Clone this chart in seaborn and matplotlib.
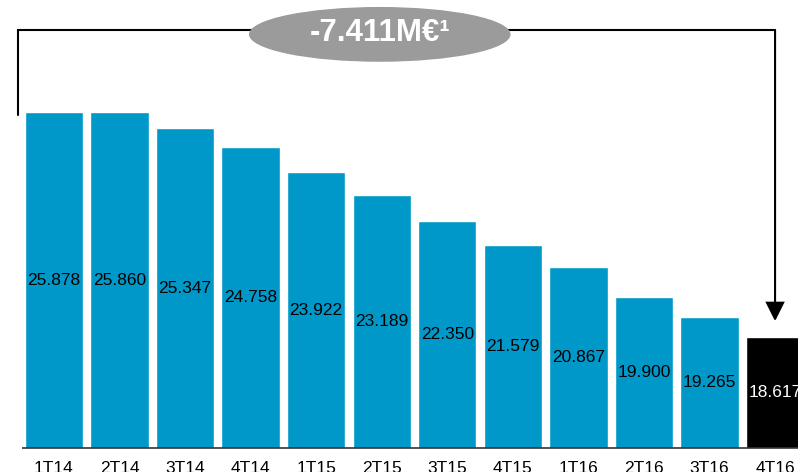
import matplotlib
matplotlib.use("Agg")
import matplotlib.pyplot as plt
from matplotlib.patches import Ellipse
import seaborn as sns
import pandas as pd

# Quarterly values (thousands)
quarters = ["1T14", "2T14", "3T14", "4T14", "1T15", "2T15",
            "3T15", "4T15", "1T16", "2T16", "3T16", "4T16"]
values = [25.878, 25.860, 25.347, 24.758, 23.922, 23.189,
          22.350, 21.579, 20.867, 19.900, 19.265, 18.617]
value_labels = ["25.878", "25.860", "25.347", "24.758", "23.922", "23.189",
                "22.350", "21.579", "20.867", "19.900", "19.265", "18.617"]
change_label = "-7.411M€¹"

BLUE = "#0098C9"
BLACK = "#000000"
GRAY = "#9B9B9B"

sns.set_theme(style="white")
plt.rcParams["font.family"] = ["Liberation Sans", "DejaVu Sans"]

df = pd.DataFrame({"quarter": quarters, "value": values})
colors = [BLUE] * (len(quarters) - 1) + [BLACK]

fig = plt.figure(figsize=(7.98, 4.72), dpi=100)
ax = fig.add_axes([0, 0.0502, 1, 0.9498])

sns.barplot(data=df, x="quarter", y="value", hue="quarter",
            palette=colors, legend=False, width=0.89, saturation=1,
            ax=ax)

ymin, ymax = 15.01, 29.49
ax.set_ylim(ymin, ymax)
ax.set_xlim(-0.823, 11.35)

# value labels centred in the visible part of each bar
for i, (v, lab) in enumerate(zip(values, value_labels)):
    ax.text(i, (v + ymin) / 2, lab, ha="center", va="center",
            fontsize=12.5, color="white" if i == len(values) - 1 else "black")

# axis styling: baseline starts just left of the first bar
for side in ["left", "right", "top", "bottom"]:
    ax.spines[side].set_visible(False)
ax.plot([-0.495, 11.35], [ymin, ymin], color="#333333", lw=1.2,
        clip_on=False, zorder=3, solid_capstyle="butt")
ax.set_xlabel("")
ax.set_ylabel("")
ax.set_yticks([])
ax.tick_params(axis="x", length=0, pad=9, labelsize=12.5, colors="black")

# bracket from first to last quarter
bracket_y = 28.52
left_x = -0.556
ax.plot([left_x, left_x, len(values) - 1], [values[0] - 0.1, bracket_y, bracket_y],
        color="black", lw=1.5, solid_joinstyle="miter", zorder=3)
ax.annotate("", xy=(len(values) - 1, values[-1] + 0.5),
            xytext=(len(values) - 1, bracket_y),
            arrowprops=dict(arrowstyle="-|>", mutation_scale=29, lw=1.5,
                            color="black", shrinkA=0, shrinkB=0,
                            joinstyle="miter"),
            zorder=3)

# change badge
ax.add_patch(Ellipse((4.97, 28.38), width=3.99, height=1.77,
                     facecolor=GRAY, edgecolor="none", zorder=4))
ax.text(4.97, 28.42, change_label, ha="center", va="center",
        fontsize=22.5, fontweight="bold", color="white", zorder=5)

fig.savefig("out.png", dpi=100)
